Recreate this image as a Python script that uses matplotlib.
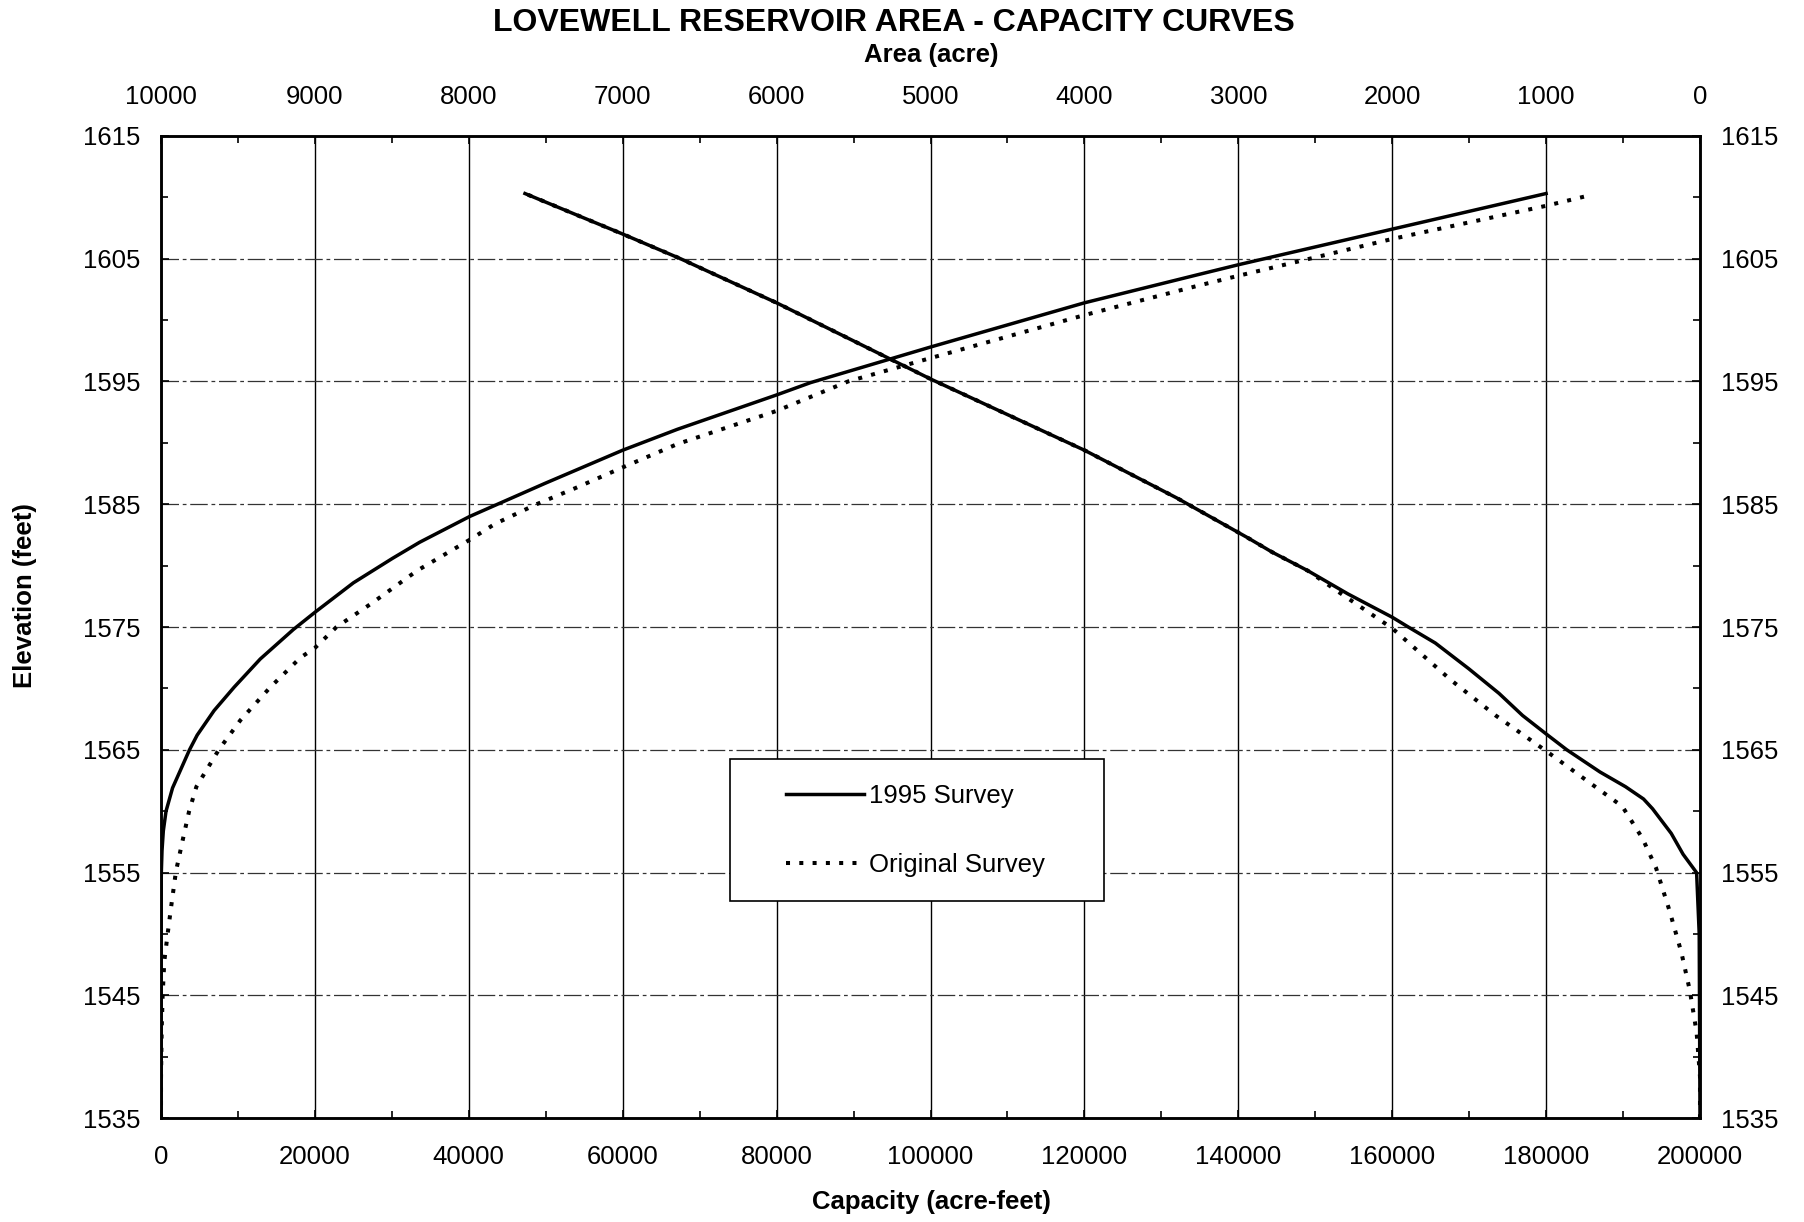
import matplotlib
matplotlib.use("Agg")
import matplotlib.pyplot as plt
from matplotlib.patches import Rectangle
from matplotlib.lines import Line2D
from matplotlib.ticker import MultipleLocator

plt.rcParams['font.family'] = ['Liberation Sans', 'DejaVu Sans']

#================================================================================================#
## data
# capacity curves (bottom axis, acre-feet)
cap95_elev = [1535, 1545, 1552, 1555, 1556.8, 1558.4, 1560, 1561.9, 1565, 1566.2, 1568.2, 1570.1,
              1572.4, 1574.8, 1576.2, 1578.6, 1580.6, 1581.9, 1584, 1586.7, 1589.4, 1591.1,
              1593.9, 1594.9, 1597.8, 1601.4, 1603.7, 1604.5, 1607.4, 1610.3]
cap95_val = [0, 0, 0, 40, 130, 300, 650, 1500, 3700, 4700, 6900, 9500,
             12900, 17200, 20000, 25000, 30100, 33600, 40100, 49900, 60000, 67100,
             80000, 84400, 100000, 120000, 134800, 140000, 160000, 180000]

capor_elev = [1535, 1538.3, 1542.3, 1545.1, 1547.8, 1550, 1552.1, 1555.1, 1557.6, 1560, 1562,
              1565, 1567.4, 1570.1, 1572.5, 1573.3, 1575, 1576.9, 1579.6, 1582.1, 1583.4, 1585,
              1586.3, 1588, 1589.9, 1592.6, 1595, 1596.9, 1600.4, 1602.8, 1603.6, 1606.6,
              1609.3, 1610.1]
capor_val = [0, 0, 90, 215, 430, 860, 1290, 1940, 2800, 3650, 4600,
             7500, 10300, 14200, 18100, 20000, 22800, 27300, 33300, 40100, 43400, 48800,
             53800, 60000, 67100, 80000, 89300, 100000, 120000, 134800, 140000, 160000,
             180000, 185300]

# area curves (top axis, acres)
area95_elev = [1535, 1550, 1555, 1556.5, 1558.2, 1560.2, 1561, 1562, 1563.2, 1565, 1566.3,
               1567.8, 1569.6, 1571.6, 1573.7, 1575, 1575.8, 1577.7, 1579.6, 1581.1, 1582.3,
               1585.5, 1589.4, 1595.2, 1601.4, 1605, 1607, 1610.3]
area95_val = [0, 5, 22, 110, 187, 308, 367, 484, 650, 865, 1000,
              1153, 1306, 1502, 1720, 1895, 2000, 2288, 2550, 2780, 2943,
              3398, 4000, 5000, 6000, 6626, 7000, 7635]

areaor_elev = [1535, 1538.4, 1542, 1545.4, 1548.5, 1551.9, 1555.4, 1557.8, 1560.4, 1562.6,
               1565, 1567.8, 1570.7, 1574.9, 1577.7, 1579.6, 1581.1, 1582.3, 1585.5, 1589.4,
               1595.2, 1601.4, 1605, 1607, 1610.3]
areaor_val = [0, 0, 22, 66, 121, 198, 286, 374, 505, 747,
              1010, 1328, 1620, 2000, 2330, 2550, 2780, 2943, 3398, 4000,
              5000, 6000, 6626, 7000, 7635]

cap_ticks = list(range(0, 200001, 20000))
area_ticks = list(range(0, 10001, 1000))
elev_ticks = list(range(1535, 1616, 10))

series_labels = ["1995 Survey", "Original Survey"]

#================================================================================================#
## plot parameters
fs = 18.5
lw_curve = 2.5
lw_dots = 2.9
dots = (0, (1.0, 2.3))

fig = plt.figure(figsize=(18.04, 12.22), dpi=100)
ax = fig.add_axes([0.08925, 0.08486, 0.85310, 0.80401])
ax.set_xlim(0, 200000)
ax.set_ylim(1535, 1615)

ax.plot(capor_val, capor_elev, color='black', lw=lw_dots, ls=dots, zorder=3)
ax.plot(cap95_val, cap95_elev, color='black', lw=lw_curve, ls='-', zorder=4)

ax.set_xticks(cap_ticks)
ax.set_xticklabels([str(v) for v in cap_ticks], fontsize=fs)
ax.set_yticks(elev_ticks)
ax.set_yticklabels([str(v) for v in elev_ticks], fontsize=fs)
ax.xaxis.set_minor_locator(MultipleLocator(10000))
ax.yaxis.set_minor_locator(MultipleLocator(5))
ax.tick_params(axis='x', which='major', direction='in', length=6, width=1.2, pad=19)
ax.tick_params(axis='x', which='minor', direction='in', length=5, width=1.2, top=False)
ax.tick_params(axis='y', which='major', direction='in', length=6, width=1.2,
               left=True, right=True, labelleft=True, labelright=True, pad=15)
ax.tick_params(axis='y', which='minor', direction='in', length=5, width=1.2,
               left=True, right=True)

ax.grid(axis='x', which='major', color='black', lw=1.0, ls='-')
ax.grid(axis='y', which='major', color='#333333', lw=0.9, ls=(0, (14, 3, 3, 3)))
for sp in ax.spines.values():
    sp.set_linewidth(1.8)

# top axis: area, reversed
ax2 = ax.twiny()
ax2.set_xlim(10000, 0)
ax2.plot(areaor_val, areaor_elev, color='black', lw=lw_dots, ls=dots, zorder=3)
ax2.plot(area95_val, area95_elev, color='black', lw=lw_curve, ls='-', zorder=4)
ax2.set_xticks(area_ticks)
ax2.set_xticklabels([str(v) for v in area_ticks], fontsize=fs)
ax2.xaxis.set_minor_locator(MultipleLocator(500))
ax2.tick_params(axis='x', which='major', direction='in', length=6, width=1.2, pad=19)
ax2.tick_params(axis='x', which='minor', direction='in', length=5, width=1.2)
for sp in ax2.spines.values():
    sp.set_linewidth(1.8)

# legend box
ax2.add_patch(Rectangle((0.370, 0.2213), 0.243, 0.144, transform=ax2.transAxes,
                        facecolor='white', edgecolor='black', lw=1.2, zorder=5))
handles = [Line2D([], [], color='black', lw=lw_curve, ls='-'),
           Line2D([], [], color='black', lw=lw_dots, ls=dots)]
leg = ax2.legend(handles, series_labels, loc='center left', bbox_to_anchor=(0.406, 0.2934),
                 frameon=False, fontsize=fs, handlelength=3.05, handletextpad=0.2,
                 labelspacing=1.75, borderpad=0, borderaxespad=0)
leg.set_zorder(6)

# titles and axis labels
fig.text(0.4956, 0.981, "LOVEWELL RESERVOIR AREA - CAPACITY CURVES", fontsize=23,
         fontweight='bold', ha='center', va='center')
fig.text(0.5161, 0.955, "Area (acre)", fontsize=fs, fontweight='bold', ha='center', va='center')
fig.text(0.5161, 0.0164, "Capacity (acre-feet)", fontsize=fs, fontweight='bold',
         ha='center', va='center')
fig.text(0.014, 0.513, "Elevation (feet)", fontsize=fs, fontweight='bold', ha='center',
         va='center', rotation=90)

fig.savefig("out.png", dpi=100)
